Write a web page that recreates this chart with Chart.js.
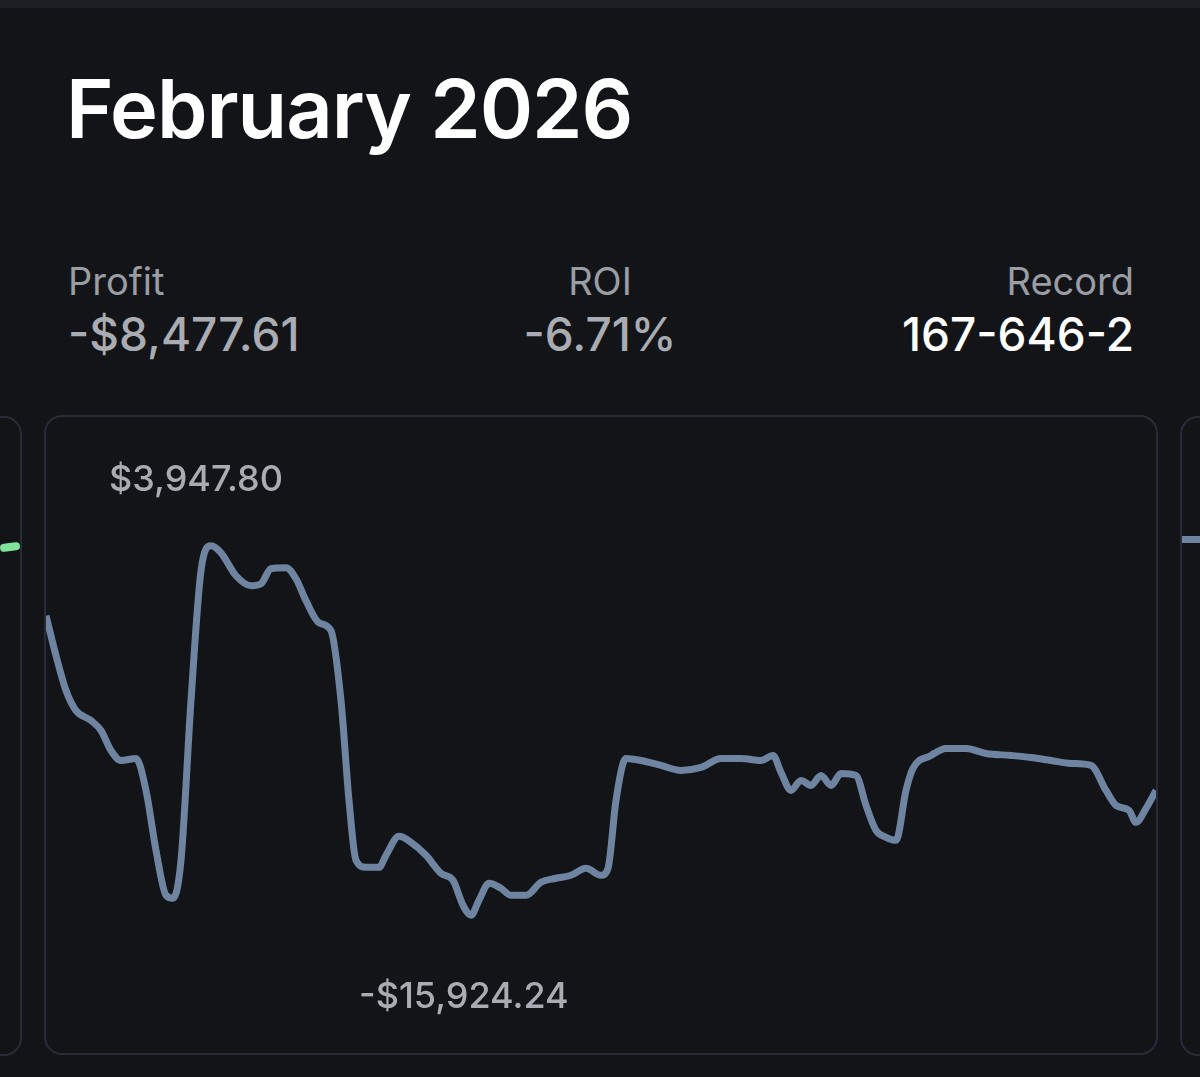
<!DOCTYPE html>
<html><head><meta charset="utf-8">
<script src="https://cdn.jsdelivr.net/npm/chart.js@4/dist/chart.umd.min.js"></script>
<style>
body{margin:0;width:1200px;height:1077px;background:#121418;font-family:Inter,"Noto Sans",sans-serif;overflow:hidden;position:relative}
.top{position:absolute;left:0;top:0;width:1200px;height:8px;background:#1c1f24}
h1{position:absolute;left:66px;top:60px;margin:0;font-size:81px;font-weight:600;color:#fff;letter-spacing:-1px}
.st{position:absolute;top:258px}
.lab{font-size:38px;color:#9a9da3}
.val{font-size:46px;font-weight:500;color:#a9acb2;margin-top:2px}
.card{position:absolute;border:2px solid #262c38;border-radius:18px;background:#121418}
.ann{position:absolute;font-size:36px;color:#a9acb2;font-weight:500}
</style></head><body>
<div class="top"></div>
<h1>February 2026</h1>
<div class="st" style="left:68px"><div class="lab">Profit</div><div class="val">-$8,477.61</div></div>
<div class="st" style="left:500px;text-align:center;width:200px"><div class="lab">ROI</div><div class="val">-6.71%</div></div>
<div class="st" style="right:66px;text-align:right"><div class="lab">Record</div><div class="val" style="color:#fff">167-646-2</div></div>
<div class="card" style="left:-40px;top:416px;width:58px;height:636px"></div>
<div style="position:absolute;left:0;top:543px;width:20px;height:8px;border-radius:4px;background:#7fe39a;transform:rotate(-8deg)"></div>
<div class="card" style="left:1180px;top:416px;width:80px;height:636px"></div>
<div style="position:absolute;left:1182px;top:536px;width:18px;height:7px;background:#6f84a0"></div>
<div class="card" style="left:44px;top:415px;width:1110px;height:636px"></div>
<div style="position:absolute;left:46px;top:417px;width:1110px;height:636px"><canvas id="c" width="1110" height="636"></canvas></div>
<div class="ann" style="left:109px;top:456px">$3,947.80</div>
<div class="ann" style="left:359px;top:973px">-$15,924.24</div>
<script>
const xs=[0,10,20,30,45,55,65,75,90,100,110,120,127,135,145,155,165,175,190,205,215,225,240,250,260,273,285,295,303,310,320,333,340,353,365,380,395,407,417,425,433,443,455,465,480,495,510,525,540,555,562,570,580,595,615,635,655,675,695,715,727,735,745,755,765,775,785,795,810,820,830,840,850,860,867,885,900,920,940,965,985,1005,1025,1045,1060,1070,1083,1090,1100,1110];
const profit=[188,-1960,-3840,-4914,-5451,-5988,-7063,-7600,-7492,-9211,-12434,-14851,-15012,-12971,-4377,2605,3948,3572,2337,1800,1907,2713,2766,2176,994,-188,-617,-4377,-9748,-12971,-13347,-13347,-12702,-11682,-12004,-12702,-13669,-14045,-15388,-15924,-15119,-14206,-14475,-14851,-14851,-14152,-13937,-13776,-13400,-13776,-13400,-9748,-7492,-7600,-7868,-8137,-7976,-7492,-7492,-7600,-7331,-8244,-9211,-8674,-8942,-8405,-8942,-8298,-8405,-10017,-11359,-11735,-11896,-9211,-8029,-7331,-6955,-6955,-7224,-7331,-7439,-7600,-7761,-7868,-9211,-10017,-10285,-10930,-10178,-9211];
new Chart(document.getElementById('c'),{
  type:'line',
  data:{datasets:[{data:xs.map((x,i)=>({x:x,y:profit[i]})),borderColor:'#6f84a0',borderWidth:7,pointRadius:0,cubicInterpolationMode:'monotone',fill:false}]},
  options:{responsive:false,animation:false,maintainAspectRatio:false,
    layout:{padding:0},
    plugins:{legend:{display:false},tooltip:{enabled:false}},
    scales:{x:{type:'linear',min:0,max:1110,display:false},y:{min:-23337,max:10877,display:false}}}
});
</script>
</body></html>
